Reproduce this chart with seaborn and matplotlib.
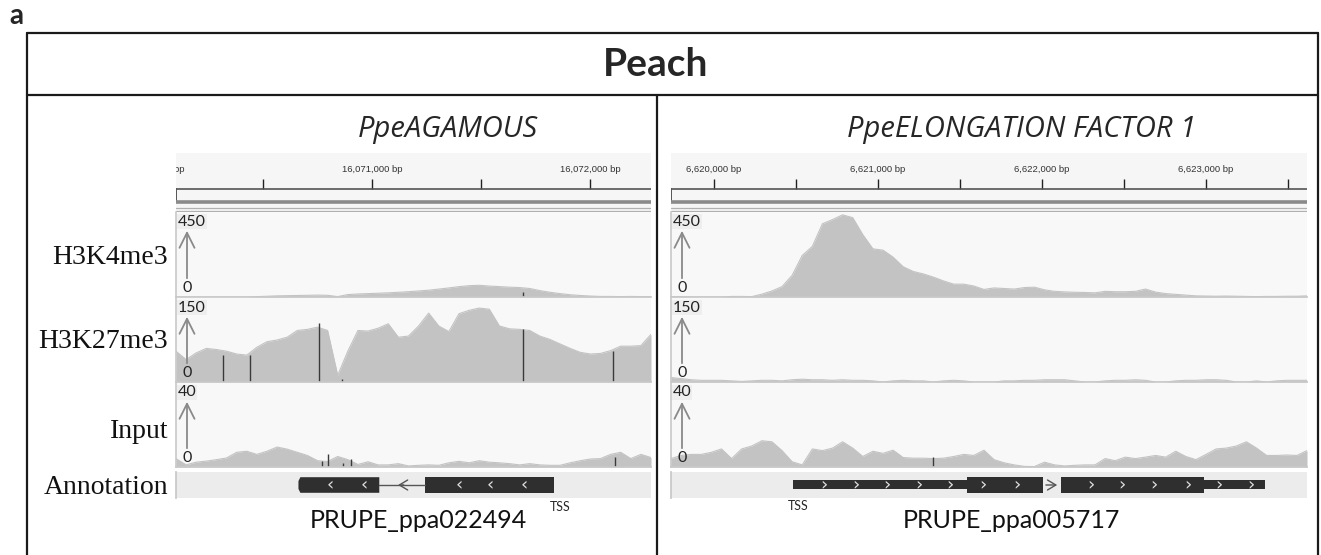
import numpy as np
import matplotlib
matplotlib.use("Agg")
import matplotlib.pyplot as plt
import seaborn as sns
from matplotlib.patches import Rectangle, Polygon

# ---------------- data ----------------
left_view = (16070100, 16072280)
right_view = (6619738, 6623616)
track_names = ["H3K4me3", "H3K27me3", "Input"]
track_max = [450, 150, 40]

left_h3k4me3 = [0, 0, 0, 0, 0, 0, 0, 0, 2, 4, 6, 7, 8, 9, 10, 9, 2, 13, 16, 18, 20, 22, 25, 28,
                32, 36, 42, 48, 55, 60, 62, 58, 55, 52, 50, 45, 34, 25, 18, 12, 8, 5, 3, 3, 2, 3, 2, 2]
left_h3k27me3 = [55, 40, 52, 60, 58, 55, 50, 48, 62, 72, 75, 80, 92, 94, 98, 92, 12, 55, 92, 91, 96, 104, 80, 82,
                 100, 123, 100, 90, 122, 128, 132, 130, 100, 95, 94, 92, 82, 76, 68, 60, 53, 50, 51, 56, 64, 64, 65, 85]
left_input = [4, 1, 2.3, 2.8, 3.5, 4.3, 7, 7.5, 6, 7.5, 9.5, 8.5, 7, 5.5, 3, 2.6, 5, 3.5, 1.2, 2.5, 1, 1, 1.6, 0.5,
              0.8, 1, 0.8, 2, 2.7, 2, 3, 2.3, 2, 1.6, 1, 1.6, 1, 0.8, 0.8, 2, 3, 3.8, 4, 6, 7, 4, 6, 4.5]

right_h3k4me3 = [2, 2, 0, 0, 0, 0, 3, 3, 2, 15, 32, 55, 115, 220, 268, 388, 410, 435, 420, 330, 255, 248, 211, 160,
                 135, 122, 105, 85, 68, 68, 58, 40, 48, 45, 42, 50, 52, 38, 30, 27, 25, 24, 22, 30, 28, 28, 30, 42,
                 26, 18, 14, 10, 6, 5, 4, 5, 4, 3, 2, 3, 3, 4, 4, 6]
right_h3k27me3 = [8, 6, 4, 3, 3, 3, 2, 1, 2, 3, 3, 2, 4, 5, 4, 4, 3, 4, 3, 3, 2, 0, 2, 3, 2, 2, 0, 2, 3, 2, 0, 0,
                  0, 2, 2, 3, 3, 4, 4, 4, 2, 0, 0, 2, 3, 3, 4, 3, 0, 0, 2, 3, 3, 4, 4, 3, 0, 0, 2, 0, 2, 3, 3, 3]
right_input = [4, 5.5, 6, 6, 7, 8.6, 4, 8.6, 10, 12.5, 12, 7.8, 2.5, 1, 8.6, 7.8, 9, 12, 9, 5, 7.5, 6.5, 8, 4.5,
               4.2, 4.2, 4, 4.2, 5, 6, 5.5, 8, 3.5, 2, 1, 0.3, 0.2, 2.3, 1, 0.5, 0.8, 1, 1, 4, 3, 4.7, 4, 4.7,
               5.5, 4.7, 7.5, 5, 3.5, 6, 8.6, 9, 10, 12, 9, 5.5, 5.5, 5.7, 5.5, 7.8]

# dark spikes (position bp, height)
left_spikes = {
    "H3K4me3": ([16071692], [28]),
    "H3K27me3": ([16070316, 16070439, 16070756, 16070861, 16071692, 16072105], [49, 48, 105, 6, 94, 55]),
    "Input": ([16070770, 16070797, 16070866, 16070903, 16072114], [3, 6, 2, 4, 5]),
}
right_spikes = {
    "H3K4me3": ([], []),
    "H3K27me3": ([], []),
    "Input": ([6621336], [5]),
}

# gene models
left_exons = [(16070662, 16071033), (16071242, 16071835)]
left_utrs = []
left_intron = (16071033, 16071242)
left_chevrons = [16070807, 16070963, 16071399, 16071543, 16071698]
left_strand = "-"
right_exons = [(6621545, 6622007), (6622115, 6622988)]
right_utrs = [(6620483, 6621545), (6622988, 6623360)]
right_intron = (6622007, 6622115)
right_chevrons = [6620669, 6620863, 6621053, 6621247, 6621437, 6621642, 6621844,
                  6622297, 6622487, 6622681, 6622887, 6623077, 6623271]
right_strand = "+"

titles = ["PpeAGAMOUS", "PpeELONGATION FACTOR 1"]
gene_names = ["PRUPE_ppa022494", "PRUPE_ppa005717"]

# ---------------- style ----------------
sns.set_theme(style="white")
plt.rcParams["font.family"] = ["Lato", "DejaVu Sans"]

W, H = 1321, 555
fig = plt.figure(figsize=(W / 100, H / 100), dpi=100)
fig.patch.set_facecolor("white")


def rect(x0, y0, x1, y1):
    return [x0 / W, 1 - y1 / H, (x1 - x0) / W, (y1 - y0) / H]


FILL = "#c3c3c3"
BG = "#f8f8f8"

overlay = fig.add_axes([0, 0, 1, 1], zorder=10)
overlay.set_xlim(0, W)
overlay.set_ylim(H, 0)
overlay.axis("off")
overlay.patch.set_alpha(0)

# frame
lc = "#1a1a1a"
overlay.plot([27, 1318], [33, 33], color=lc, lw=1.6)
overlay.plot([27, 1318], [95, 95], color=lc, lw=1.6)
overlay.plot([27, 27], [33, 555], color=lc, lw=1.6)
overlay.plot([1318, 1318], [33, 555], color=lc, lw=1.6)
overlay.plot([657, 657], [95, 555], color=lc, lw=1.6)
overlay.text(9, 16, "a", fontsize=20, fontweight="bold", ha="left", va="center")
overlay.text(656, 64, "Peach", fontsize=28, fontweight="bold", ha="center", va="center")

rows = [(212, 297), (298, 382), (383, 467)]
label_y = [257, 341, 431]
panels = [
    dict(x0=176, x1=651, view=left_view, data=[left_h3k4me3, left_h3k27me3, left_input], spikes=left_spikes,
         exons=left_exons, utrs=left_utrs, intron=left_intron, chev=left_chevrons, strand=left_strand,
         title=titles[0], tx=448, gene=gene_names[0], gx=418),
    dict(x0=671, x1=1307, view=right_view, data=[right_h3k4me3, right_h3k27me3, right_input], spikes=right_spikes,
         exons=right_exons, utrs=right_utrs, intron=right_intron, chev=right_chevrons, strand=right_strand,
         title=titles[1], tx=1022, gene=gene_names[1], gx=1011),
]

for p in panels:
    x0, x1 = p["x0"], p["x1"]
    vs, ve = p["view"]
    overlay.text(p["tx"], 137, p["title"], fontsize=21, style="italic", family="Open Sans",
                 ha="center", va="baseline")

    # ruler
    rax = fig.add_axes(rect(x0, 153, x1, 212))
    rax.set_xlim(vs, ve)
    rax.set_ylim(212, 153)
    rax.set_facecolor("#f6f6f6")
    for s in rax.spines.values():
        s.set_visible(False)
    rax.set_xticks([]); rax.set_yticks([])
    ticks = np.arange(int(np.ceil(vs / 500.0)) * 500, ve + 1, 500)
    rax.vlines(ticks, 179, 189, color="#222222", lw=1.0)
    for t in ticks:
        if t % 1000 == 0:
            rax.text(t, 170, f"{t:,} bp", fontsize=6.8, ha="center", va="center",
                     family="Liberation Sans", color="#333333", clip_on=True)
    prev = (vs // 1000) * 1000
    if (ticks[0] - vs) > 300:
        rax.text(vs + (ve - vs) * 0.018, 170, f"{prev:,} bp", fontsize=6.8, ha="right", va="center",
                 family="Liberation Sans", color="#333333", clip_on=True)
    rax.plot([vs, ve], [189, 189], color="#555555", lw=1.2)
    rax.plot([vs, vs], [189, 201], color="#555555", lw=1.4)
    rax.plot([vs, ve], [202, 202], color="#8a8a8a", lw=2.6)
    rax.plot([vs, ve], [207.5, 207.5], color="#b0b0b0", lw=0.9)
    rax.plot([vs, ve], [211, 211], color="#b0b0b0", lw=0.9)

    # tracks
    for i, (name, vals) in enumerate(zip(track_names, p["data"])):
        top, bot = rows[i]
        ax = fig.add_axes(rect(x0, top, x1, bot))
        ax.set_facecolor(BG)
        x = np.linspace(vs, ve, len(vals))
        v = np.array(vals, dtype=float)
        ax.fill_between(x, 0, v, color=FILL, lw=0)
        sns.lineplot(x=x, y=v, ax=ax, color=FILL, lw=0.8)
        sx, sh = p["spikes"][name]
        if len(sx):
            ax.vlines(sx, 0, sh, color="#3a3a3a", lw=1.0)
        ax.set_xlim(vs, ve)
        ax.set_ylim(0, track_max[i])
        ax.set_xticks([]); ax.set_yticks([])
        ax.set_xlabel(""); ax.set_ylabel("")
        for k, s in ax.spines.items():
            s.set_visible(k in ("bottom", "left"))
            s.set_color("#c8c8c8")
            s.set_linewidth(1.2)
        overlay.text(x0 + 2, top + 9.5, f"{track_max[i]}", fontsize=11.5, ha="left", va="center",
                     color="#222222", bbox=dict(fc="#eeeeee", ec="none", pad=0.5))
        overlay.annotate("", xy=(x0 + 11, top + 16), xytext=(x0 + 11, bot - 16),
                         arrowprops=dict(arrowstyle="->,head_length=0.9,head_width=0.45", color="#8a8a8a", lw=1.3))
        overlay.text(x0 + 11, bot - 9, "0", fontsize=11.5, ha="center", va="center", color="#222222")
        if p is panels[0]:
            overlay.text(168, label_y[i], name, fontsize=20, family="Liberation Serif",
                         ha="right", va="center", color="#111111")

    # annotation track
    aax = fig.add_axes(rect(x0, 472, x1, 498))
    aax.set_facecolor("#ececec")
    aax.set_xlim(vs, ve)
    aax.set_ylim(0, 1)
    aax.set_xticks([]); aax.set_yticks([])
    for k, s in aax.spines.items():
        s.set_visible(k == "left")
        s.set_color("#c8c8c8")
    gc = "#2f2f2f"
    bev = (ve - vs) * 0.004
    for j, (a, b) in enumerate(p["exons"]):
        if p["strand"] == "-" and j == 0:
            aax.add_patch(Polygon([(a + bev, 0.2), (b, 0.2), (b, 0.8), (a + bev, 0.8), (a, 0.65), (a, 0.35)],
                                  closed=True, fc=gc, ec="none"))
        else:
            aax.add_patch(Rectangle((a, 0.2), b - a, 0.6, fc=gc, ec="none"))
    for a, b in p["utrs"]:
        aax.add_patch(Rectangle((a, 0.33), b - a, 0.36, fc=gc, ec="none"))
    ia, ib = p["intron"]
    if p["strand"] == "-":
        aax.plot([ia, ib], [0.5, 0.5], color="#555555", lw=1.0)
        mid = (ia + ib) / 2
        aax.annotate("", xy=(mid - (ib - ia) * 0.15, 0.5), xytext=(mid + (ib - ia) * 0.1, 0.5),
                     arrowprops=dict(arrowstyle="->,head_length=0.5,head_width=0.3", color="#555555", lw=1.0))
        ch = "\u2039"
    else:
        aax.annotate("", xy=(ib - (ib - ia) * 0.05, 0.5), xytext=(ia, 0.5),
                     arrowprops=dict(arrowstyle="->,head_length=0.5,head_width=0.3", color="#555555", lw=1.0))
        ch = "\u203a"
    for c in p["chev"]:
        aax.text(c, 0.5, ch, color="#e0e0e0", fontsize=13, ha="center", va="center", family="DejaVu Sans")

    overlay.text(p["gx"], 521, p["gene"], fontsize=18, ha="center", va="center", color="#111111")

overlay.text(168, 487, "Annotation", fontsize=20, family="Liberation Serif", ha="right", va="center", color="#111111")
overlay.text(550, 507, "TSS", fontsize=9, ha="left", va="center")
overlay.text(798, 506, "TSS", fontsize=9, ha="center", va="center")

fig.savefig("out.png", dpi=100, facecolor="white")
